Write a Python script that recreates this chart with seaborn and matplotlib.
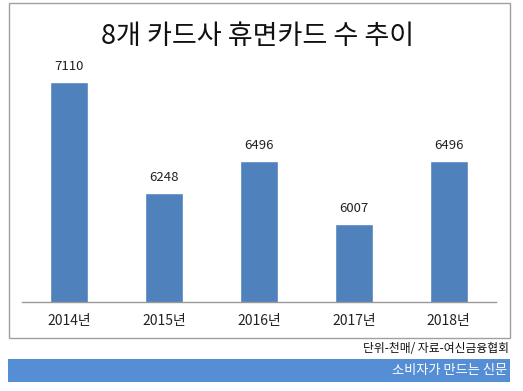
import matplotlib
matplotlib.use("Agg")
import matplotlib.pyplot as plt
import seaborn as sns
import pandas as pd
from matplotlib.patches import Rectangle

years = ["2014년", "2015년", "2016년", "2017년", "2018년"]
cards = [7110, 6248, 6496, 6007, 6496]
title = "8개 카드사 휴면카드 수 추이"
source = "단위-천매/ 자료-여신금융협회"
brand = "소비자가 만드는 신문"

sns.set_theme(style="white")
plt.rcParams['font.family'] = ['Noto Sans CJK KR', 'DejaVu Sans']

W, H = 523, 391
fig = plt.figure(figsize=(W / 100, H / 100), dpi=100)

def fx(x):
    return x / W

def fy(y):
    return 1 - y / H

ax = fig.add_axes([fx(22), fy(302), fx(496 - 22), (302 - 65) / H])
df = pd.DataFrame({"year": years, "cards": cards})
sns.barplot(data=df, x="year", y="cards", color="#4F81BD", saturation=1,
            width=0.4, ax=ax)
ax.set_ylim(5400, 7240)
ax.set_xlim(-0.5, len(years) - 0.5)
for c in ax.containers:
    ax.bar_label(c, labels=[str(v) for v in cards], padding=6, fontsize=9.5,
                 color="#222222")
ax.set_xlabel("")
ax.set_ylabel("")
ax.set_yticks([])
ax.tick_params(axis="x", length=0, labelsize=10, colors="#222222", pad=9)
for s in ["top", "left", "right"]:
    ax.spines[s].set_visible(False)
ax.spines["bottom"].set_color("#999999")
ax.spines["bottom"].set_linewidth(1)
ax.patch.set_alpha(0)

# outer border
fig.patches.append(Rectangle((fx(9), fy(338)), fx(510 - 9), (338 - 3) / H,
                             transform=fig.transFigure, fill=False,
                             edgecolor="#A0A0A0", linewidth=1))
fig.text(fx(258), fy(37), title, ha="center", va="center", fontsize=19.5,
         fontweight="medium", color="#111111")
fig.text(fx(509), fy(349), source, ha="right", va="center", fontsize=8.5,
         color="#111111")
fig.patches.append(Rectangle((fx(8), fy(382)), fx(510 - 8), (382 - 359) / H,
                             transform=fig.transFigure, facecolor="#558ED5",
                             edgecolor="none"))
fig.text(fx(507), fy(370.5), brand, ha="right", va="center", fontsize=9.5,
         color="white")

fig.savefig("out.png", dpi=100)
